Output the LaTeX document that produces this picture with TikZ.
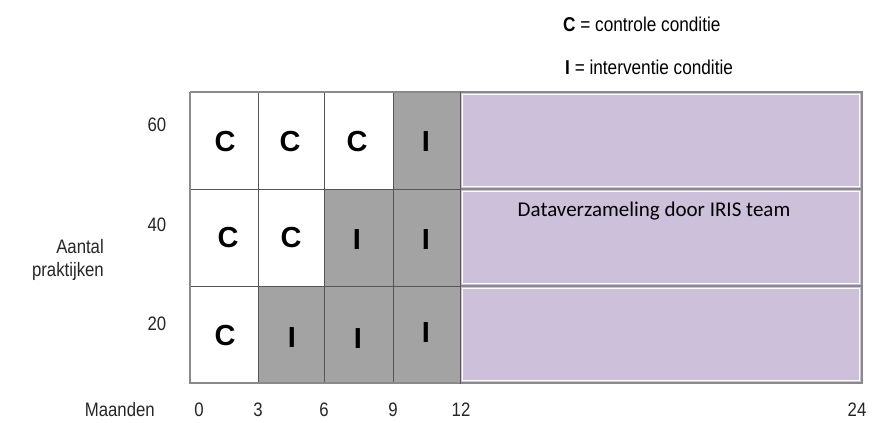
\documentclass[tikz,border=0pt]{standalone}
\usepackage{fontspec}
\setmainfont{Liberation Sans}
\newfontfamily\calfont{Carlito}
\newfontfamily\labelfont[FakeStretch=0.86]{Liberation Sans}
\definecolor{cellgrey}{HTML}{A3A3A3}
\definecolor{lilac}{HTML}{CCC0DA}
\definecolor{gridline}{HTML}{555555}
\definecolor{frameline}{HTML}{8A8A8A}
\tikzset{
  cellbox/.style={draw=gridline, line width=0.9pt, inner sep=0pt, outer sep=0pt},
  ctl/.style={cellbox, fill=white},
  itv/.style={cellbox, fill=cellgrey},
  databox/.style={draw=frameline, line width=1.6pt, fill=lilac, inner sep=0pt, outer sep=0pt,
    minimum width=402pt, minimum height=97pt},
  letter/.style={inner sep=0pt, font=\fontsize{29}{29}\selectfont\bfseries},
  axislabel/.style={font=\labelfont\fontsize{19.5}{19.5}\selectfont, text=black!85, inner sep=0pt},
  legend/.style={font=\labelfont\fontsize{20}{20}\selectfont, inner sep=0pt, anchor=west}
}
\begin{document}
\begin{tikzpicture}[x=1pt,y=-1pt]
\useasboundingbox (0,0) rectangle (873,423);

% lilac data-collection bands, months 12 to 24
\foreach \r/\t/\b in {1/92/189, 2/189/286, 3/286/383}{
  \node[databox] (data\r) at (661,{(\t+\b)/2}) {};
  \draw[white, line width=1pt] ([shift={(2.5pt,-2.5pt)}]data\r.north west) rectangle ([shift={(-2.5pt,2.5pt)}]data\r.south east);
}
\node[font=\calfont\fontsize{21}{21}\selectfont, inner sep=0pt] (datatext) at (654,211) {Dataverzameling door IRIS team};

% condition cells, months 0 to 12
\foreach \x/\y/\w/\h/\s/\n in {
  190/92/68/97/ctl/a1, 258/92/66/97/ctl/a2, 324/92/69/97/ctl/a3, 393/92/67/97/itv/a4,
  190/189/68/97/ctl/b1, 258/189/66/97/ctl/b2, 324/189/69/97/itv/b3, 393/189/67/97/itv/b4,
  190/286/68/97/ctl/c1, 258/286/66/97/itv/c2, 324/286/69/97/itv/c3, 393/286/67/97/itv/c4}{
  \node[\s, minimum width=\w pt, minimum height=\h pt] (\n) at ({\x+\w/2},{\y+\h/2}) {};
}
\draw[frameline, line width=1.6pt] (a1.north west) -- (c1.south west) -- (c4.south east);
\draw[frameline, line width=1.6pt] (a1.north west) -- (a4.north east);

% cell letters
\foreach \n/\l/\px/\py in {
  a1/C/225/142, a2/C/290/142, a3/C/357/142, a4/I/426/142,
  b1/C/228/238, b2/C/291/238, b3/I/357/240, b4/I/426/240,
  c1/C/225/336, c2/I/292/338, c3/I/358/339, c4/I/426/333}{
  \node[letter] (t\n) at (\px,\py) {\l};
}

% vertical axis
\node[axislabel] (y60) at (157,125) {60};
\node[axislabel] (y40) at (157,225) {40};
\node[axislabel] (y20) at (157,324) {20};
\node[axislabel, anchor=east] (ylab1) at (104,247) {Aantal};
\node[axislabel, anchor=east] (ylab2) at (104,271) {praktijken};

% horizontal axis
\node[axislabel, anchor=east] (xlab) at (155,410) {Maanden};
\foreach \v/\px in {0/199, 3/258, 6/324, 9/393, 12/461, 24/857}{
  \node[axislabel] (m\v) at (\px,410) {\v};
}

% legend
\node[legend] (legC) at (563,24) {\textbf{C} = controle conditie};
\node[legend] (legI) at (565,67) {\textbf{I} = interventie conditie};
\end{tikzpicture}
\end{document}
